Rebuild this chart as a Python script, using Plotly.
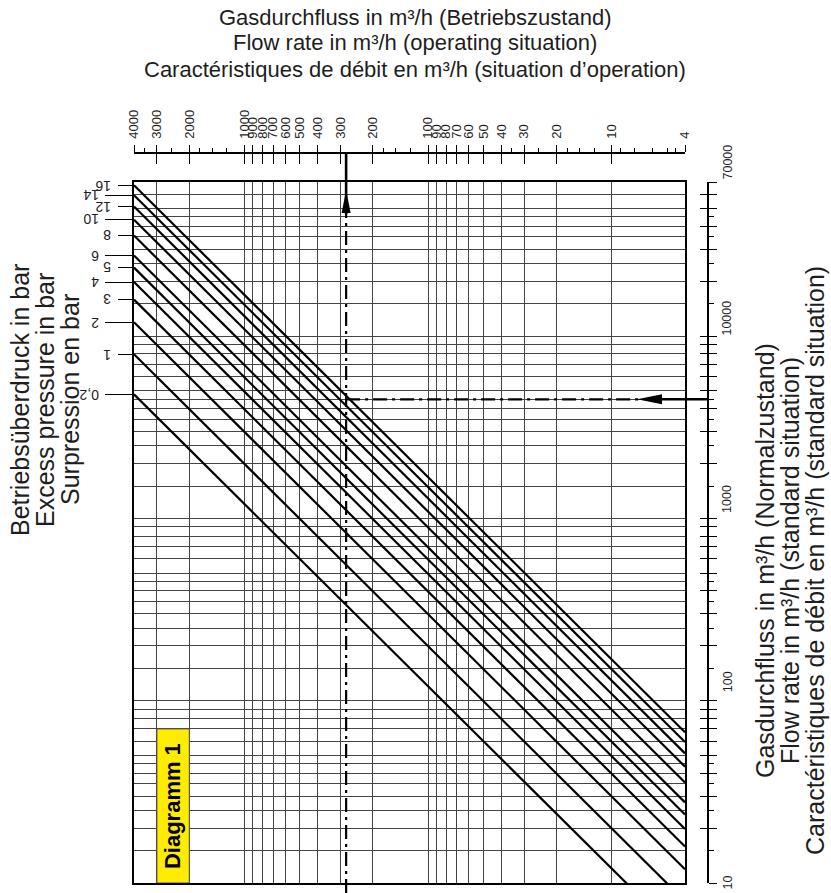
import math
import plotly.graph_objects as go

# ---------------- data ----------------
pressures = [0.2, 1, 2, 3, 4, 5, 6, 8, 10, 12, 14, 16]          # bar (excess pressure)
pressure_labels = ["0,2", "1", "2", "3", "4", "5", "6", "8", "10", "12", "14", "16"]
p_norm = 1.013                                                  # bar, standard pressure

qb_range = [4000, 4]          # operating flow, left -> right
qn_range = [10, 70000]        # standard flow, bottom -> top

qb_major_ticks = [4000, 3000, 2000, 1000, 900, 800, 700, 600, 500, 400, 300, 200,
                  100, 90, 80, 70, 60, 50, 40, 30, 20, 10, 4]
qb_tick_labels = ["4000", "3000", "2000", "1000", "900", "800", "700", "600", "500",
                  "400", "300", "200", "100", "90", "80", "70", "60", "50", "40", "30",
                  "20", "10", "4"]
qb_minor_ticks = [3500, 2500, 1750, 1500, 1250, 175, 150, 125, 35, 25, 17.5, 15, 12.5,
                  9, 7.5, 6, 5, 4.5]
qb_grid = [3000, 2000, 1000, 900, 800, 700, 600, 500, 400, 300, 200,
           100, 90, 80, 70, 60, 50, 40, 30, 20, 10]

qn_major_ticks = [10, 20, 30, 40, 50, 60, 70, 80, 90,
                  100, 200, 300, 400, 500, 600, 700, 800, 900,
                  1000, 2000, 3000, 4000, 5000, 6000, 7000, 8000, 9000,
                  10000, 20000, 30000, 40000, 50000, 60000, 70000]
qn_minor_ticks = [15, 25, 35, 45, 150, 250, 350, 450, 1500, 2500, 3500, 4500,
                  15000, 25000, 35000, 45000]
qn_label_values = [10, 100, 1000, 10000, 70000]
qn_tick_labels = ["10", "100", "1000", "10000", "70000"]

example_qn = 4500     # m³/h standard (reading example)
example_qb = 280      # m³/h operating (reading example)

title_top = ["Gasdurchfluss in m³/h (Betriebszustand)",
             "Flow rate in m³/h (operating situation)",
             "Caractéristiques de débit en m³/h (situation d’operation)"]
title_left = ["Betriebsüberdruck in bar",
              "Excess pressure in bar",
              "Surpression en bar"]
title_right = ["Gasdurchfluss in m³/h (Normalzustand)",
               "Flow rate in m³/h (standard situation)",
               "Caractéristiques de débit en m³/h (standard situation)"]
diagram_label = "Diagramm 1"

# ---------------- geometry helpers ----------------
W, H = 831, 893
PL, PR, PT, PB = 134, 740, 140, 883      # paper box in px
PW, PH = PR - PL, PB - PT


def fx(px):
    return (px - PL) / PW


def fy(py):
    return (PB - py) / PH


lg = math.log10
X_DOM = [0, fx(685)]
Y_DOM = [0, fy(182)]
XR = [lg(qb_range[0]), lg(qb_range[1])]
YR = [lg(qn_range[0]), lg(qn_range[1])]


def qb_at_px(px):
    frac = (px - PL) / (685 - PL)
    return 10 ** (XR[0] + frac * (XR[1] - XR[0]))


FONT = "Liberation Sans, Arial, sans-serif"
INK = "#1e1e1e"
GRID = "#444444"


def qn_from_qb(qb, p):
    return qb * (p + p_norm) / p_norm


fig = go.Figure()

# pressure lines
for p in pressures:
    fig.add_trace(go.Scatter(
        x=qb_range, y=[qn_from_qb(q, p) for q in qb_range],
        mode="lines", line=dict(color="black", width=2.2),
        hoverinfo="skip", showlegend=False))

# invisible anchors for the extra axes
for xa, ya in [("x2", "y"), ("x3", "y"), ("x", "y2"), ("x", "y3"), ("x", "y4"), ("x", "y5")]:
    fig.add_trace(go.Scatter(x=[qb_range[0]], y=[qn_range[0]], xaxis=xa, yaxis=ya,
                             mode="markers", marker=dict(opacity=0),
                             hoverinfo="skip", showlegend=False))


def xaxis_base(**kw):
    d = dict(type="log", range=XR, domain=X_DOM, zeroline=False, showgrid=False,
             tickmode="array")
    d.update(kw)
    return d


def yaxis_base(**kw):
    d = dict(type="log", range=YR, domain=Y_DOM, zeroline=False, showgrid=False,
             tickmode="array")
    d.update(kw)
    return d


start_vals = [qn_from_qb(qb_range[0], p) for p in pressures]
group_a = [v for i, v in enumerate(start_vals) if i % 2 == 1]
group_b = [v for i, v in enumerate(start_vals) if i % 2 == 0]

tick_font = dict(family=FONT, size=13, color=INK)

fig.update_layout(
    width=W, height=H,
    margin=dict(l=PL, r=W - PR, t=PT, b=H - PB, pad=0),
    paper_bgcolor="white", plot_bgcolor="white",
    showlegend=False,
    xaxis=xaxis_base(tickvals=qb_grid, showticklabels=False, ticks="",
                     showgrid=True, gridcolor=GRID, gridwidth=1,
                     showline=True, mirror=True, linecolor="black", linewidth=1.5,
                     anchor="y"),
    xaxis2=xaxis_base(overlaying="x", anchor="free", position=fy(153), side="top",
                      tickvals=qb_major_ticks, ticktext=qb_tick_labels,
                      ticks="outside", ticklen=7, tickwidth=1.3, tickcolor="black",
                      tickangle=-90, tickfont=tick_font, ticklabelstandoff=4,
                      showline=True, linecolor="black", linewidth=1.5,
                      minor=dict(tickmode="array", tickvals=qb_minor_ticks, ticks="outside",
                                 ticklen=4, tickwidth=1.2, tickcolor="black",
                                 showgrid=False)),
    xaxis3=xaxis_base(overlaying="x", anchor="free", position=fy(153), side="top",
                      tickvals=qb_major_ticks, ticks="inside", ticklen=10,
                      tickwidth=1.3, tickcolor="black", showticklabels=False,
                      showline=False),
    yaxis=yaxis_base(tickvals=qn_major_ticks + qn_minor_ticks, showticklabels=False,
                     ticks="", showgrid=True, gridcolor=GRID, gridwidth=1,
                     showline=True, mirror=True, linecolor="black", linewidth=1.5,
                     anchor="x"),
    yaxis2=yaxis_base(overlaying="y", anchor="free", position=fx(708), side="right",
                      tickvals=qn_major_ticks, ticks="outside", ticklen=8,
                      tickwidth=1.3, tickcolor="black", showticklabels=False,
                      showline=True, linecolor="black", linewidth=2,
                      minor=dict(tickmode="array", tickvals=qn_minor_ticks, ticks="outside",
                                 ticklen=5, tickwidth=1.2, tickcolor="black",
                                 showgrid=False)),
    yaxis3=yaxis_base(overlaying="y", anchor="free", position=fx(708), side="right",
                      tickvals=qn_major_ticks, ticks="inside", ticklen=8,
                      tickwidth=1.3, tickcolor="black", showticklabels=False,
                      showline=False),
    yaxis4=yaxis_base(overlaying="y", anchor="free", position=0, side="left",
                      tickvals=group_a, ticks="outside", ticklen=16, tickwidth=1.2,
                      tickcolor="black", showticklabels=False, showline=False),
    yaxis5=yaxis_base(overlaying="y", anchor="free", position=0, side="left",
                      tickvals=group_b, ticks="outside", ticklen=29, tickwidth=1.2,
                      tickcolor="black", showticklabels=False, showline=False),
)

ann = []
# pressure labels (upside down)
for i, (v, lab) in enumerate(zip(start_vals, pressure_labels)):
    right_px = 113 if i % 2 == 1 else 101
    ann.append(dict(text=lab, xref="paper", yref="y", x=fx(right_px), y=lg(v),
                    xanchor="right", yanchor="middle", textangle=180, showarrow=False,
                    font=dict(family=FONT, size=14, color=INK)))

# right axis labels
label_shift = [0, 19, 19, 18, 20]
for v, lab, s in zip(qn_label_values, qn_tick_labels, label_shift):
    ann.append(dict(text=lab, xref="paper", yref="y", x=fx(727.5), y=lg(v),
                    xanchor="center", yanchor="middle", yshift=s, textangle=-90,
                    showarrow=False, font=dict(family=FONT, size=12.5, color=INK)))

top_font = dict(family=FONT, size=22, color=INK)
side_font = dict(family=FONT, size=25, color=INK)
for t, py in zip(title_top, [17, 43, 70]):
    ann.append(dict(text=t, xref="paper", yref="paper", x=fx(415), y=fy(py),
                    xanchor="center", yanchor="middle", showarrow=False, font=top_font))
for t, px in zip(title_left, [20, 45, 70]):
    ann.append(dict(text=t, xref="paper", yref="paper", x=fx(px), y=fy(400),
                    xanchor="center", yanchor="middle", textangle=-90,
                    showarrow=False, font=side_font))
for t, px in zip(title_right, [765, 790, 815]):
    ann.append(dict(text=t, xref="paper", yref="paper", x=fx(px), y=fy(561),
                    xanchor="center", yanchor="middle", textangle=-90,
                    showarrow=False, font=side_font))

# Diagramm label (annotations on log axes take log10 positions)
ann.append(dict(text="<b>" + diagram_label + "</b>", xref="x", yref="y",
                x=(lg(qb_grid[0]) + lg(qb_grid[1])) / 2,
                y=(lg(qn_major_ticks[0]) + lg(qn_major_ticks[6])) / 2,
                xanchor="center", yanchor="middle", textangle=-90, showarrow=False,
                font=dict(family=FONT, size=22, color="black")))

fig.update_layout(annotations=ann)

# shapes on log axes take data values
DASH = "14px,5px,3px,5px"
shapes = [
    # yellow label box
    dict(type="rect", xref="x", yref="y", x0=qb_grid[0], x1=qb_grid[1],
         y0=qn_major_ticks[0], y1=qn_major_ticks[6],
         fillcolor="#FFEC00", line=dict(color="#555555", width=1), layer="above"),
    # vertical reading line
    dict(type="line", xref="x", yref="paper", x0=example_qb, x1=example_qb,
         y0=fy(H), y1=fy(213), line=dict(color="black", width=2.2, dash=DASH)),
    dict(type="line", xref="x", yref="paper", x0=example_qb, x1=example_qb,
         y0=fy(153), y1=fy(214), line=dict(color="black", width=2.6)),
    dict(type="path", xref="x", yref="paper", xsizemode="pixel", ysizemode="pixel",
         xanchor=example_qb, yanchor=fy(190),
         path="M0,0 L-4.5,-23 L4.5,-23 Z", fillcolor="black", line=dict(width=0)),
    # horizontal reading line
    dict(type="line", xref="x", yref="y", x0=example_qb, x1=qb_at_px(639),
         y0=example_qn, y1=example_qn, line=dict(color="black", width=2.2, dash=DASH)),
    dict(type="line", xref="paper", yref="y", x0=fx(661), x1=fx(708),
         y0=example_qn, y1=example_qn, line=dict(color="black", width=2.6)),
    dict(type="path", xref="paper", yref="y", xsizemode="pixel", ysizemode="pixel",
         xanchor=fx(637), yanchor=example_qn,
         path="M0,0 L25,5 L25,-5 Z", fillcolor="black", line=dict(width=0)),
]
fig.update_layout(shapes=shapes)

fig.write_html("out.html", config={"displayModeBar": False},
               post_script="document.body.style.margin='0';document.body.style.overflow='hidden';")
